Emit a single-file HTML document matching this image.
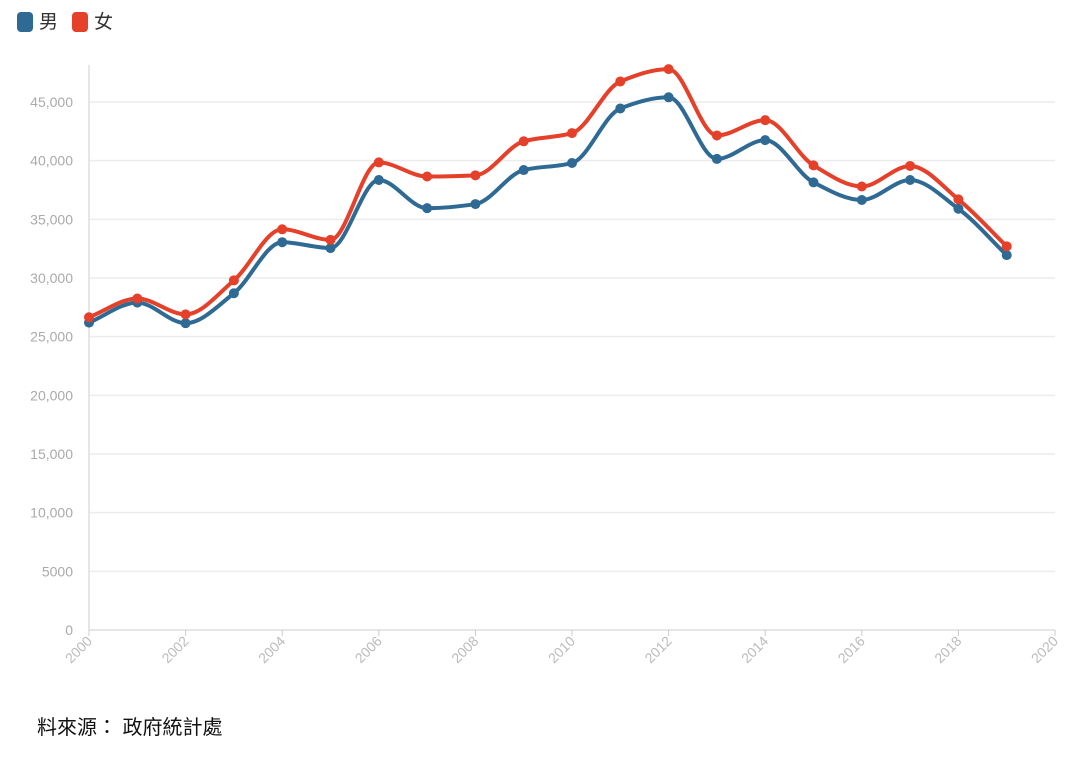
<!DOCTYPE html>
<html><head><meta charset="utf-8"><style>
body{margin:0;background:#fff;width:1080px;height:757px;overflow:hidden;font-family:"Liberation Sans","Noto Sans CJK TC",sans-serif}
</style></head><body>
<svg id="c" width="1080" height="757" xmlns="http://www.w3.org/2000/svg">
<g>
<g><rect x="17" y="12" width="16" height="20" rx="4" fill="#2e6a93"/><text x="39" y="28" font-size="19" fill="#333" font-family="Liberation Sans,Noto Sans CJK TC,sans-serif">男</text></g>
<g><rect x="72" y="12" width="16" height="20" rx="4" fill="#e5402a"/><text x="94" y="28" font-size="19" fill="#333" font-family="Liberation Sans,Noto Sans CJK TC,sans-serif">女</text></g>
</g>
<text x="37" y="734" font-size="20" fill="#111" font-family="Liberation Sans,Noto Sans CJK TC,sans-serif">料來源： 政府統計處</text>
<g id="grid"></g><g id="axes"></g><g id="series"></g>
</svg>
<script>
const years=[2000,2001,2002,2003,2004,2005,2006,2007,2008,2009,2010,2011,2012,2013,2014,2015,2016,2017,2018,2019];
const male=[26200,27900,26150,28700,33050,32550,38350,35950,36300,39200,39800,44450,45400,40150,41750,38150,36650,38350,35900,31950];
const female=[26650,28250,26900,29800,34150,33250,39850,38650,38750,41650,42350,46750,47800,42150,43450,39600,37800,39550,36700,32700];
const yTicks=[0,5000,10000,15000,20000,25000,30000,35000,40000,45000];
const yTickLabels=["0","5000","10,000","15,000","20,000","25,000","30,000","35,000","40,000","45,000"];
const xTicks=[2000,2002,2004,2006,2008,2010,2012,2014,2016,2018,2020];
const NS="http://www.w3.org/2000/svg";
const X=v=>89+(v-2000)*(1055-89)/20;
const Y=v=>630-v*(630-102)/45000;
function mk(t,a,p){const e=document.createElementNS(NS,t);for(const k in a)e.setAttribute(k,a[k]);p.appendChild(e);return e;}
const g=document.getElementById('grid'),ax=document.getElementById('axes'),s=document.getElementById('series');
yTicks.forEach((v,i)=>{
 const l=mk('line',{x1:89,x2:1055,y1:Y(v),y2:Y(v),stroke:v===0?'#ddd':'#ececec','stroke-width':1.5},g);
 
 
 const t=mk('text',{x:73,y:Y(v)+5,'text-anchor':'end','font-size':14,fill:'#aaa'},ax);
 t.textContent=yTickLabels[i];
 
 
});
const yl=mk('line',{x1:89,x2:89,y1:65,y2:630,stroke:'#ddd','stroke-width':1.5},ax);


xTicks.forEach(v=>{
 const tk=mk('line',{x1:X(v),x2:X(v),y1:630,y2:636,stroke:'#ccc'},ax);
 
 
 const t=mk('text',{x:X(v)+4,y:642,'text-anchor':'end','font-size':14,fill:'#bbb',transform:`rotate(-45 ${X(v)+4} 642)`},ax);
 t.textContent=v;
 
 
});
function path(vals){
 const p=vals.map((v,i)=>[X(years[i]),Y(v)]);
 const n=p.length,m=[],d=[];
 for(let i=0;i<n-1;i++)d.push((p[i+1][1]-p[i][1])/(p[i+1][0]-p[i][0]));
 for(let i=0;i<n;i++){
  if(i===0)m.push(d[0]);else if(i===n-1)m.push(d[n-2]);
  else if(d[i-1]*d[i]<=0)m.push(0);
  else m.push(2/(1/d[i-1]+1/d[i]));
 }
 let s=`M${p[0][0]},${p[0][1]}`;
 for(let i=0;i<n-1;i++){
  const h=(p[i+1][0]-p[i][0])/3;
  s+=` C${p[i][0]+h},${p[i][1]+m[i]*h} ${p[i+1][0]-h},${p[i+1][1]-m[i+1]*h} ${p[i+1][0]},${p[i+1][1]}`;
 }
 return s;
}
[[male,'#2e6a93','male'],[female,'#e5402a','female']].forEach(([vals,c,n])=>{
 const gg=mk('g',{},s);
 
 
 const l=mk('path',{d:path(vals),fill:'none',stroke:c,'stroke-width':4},gg);
 
 
 vals.forEach((v,i)=>{
  const pt=mk('circle',{cx:X(years[i]),cy:Y(v),r:5,fill:c},gg);
  
  
 });
});
</script>
</body></html>
